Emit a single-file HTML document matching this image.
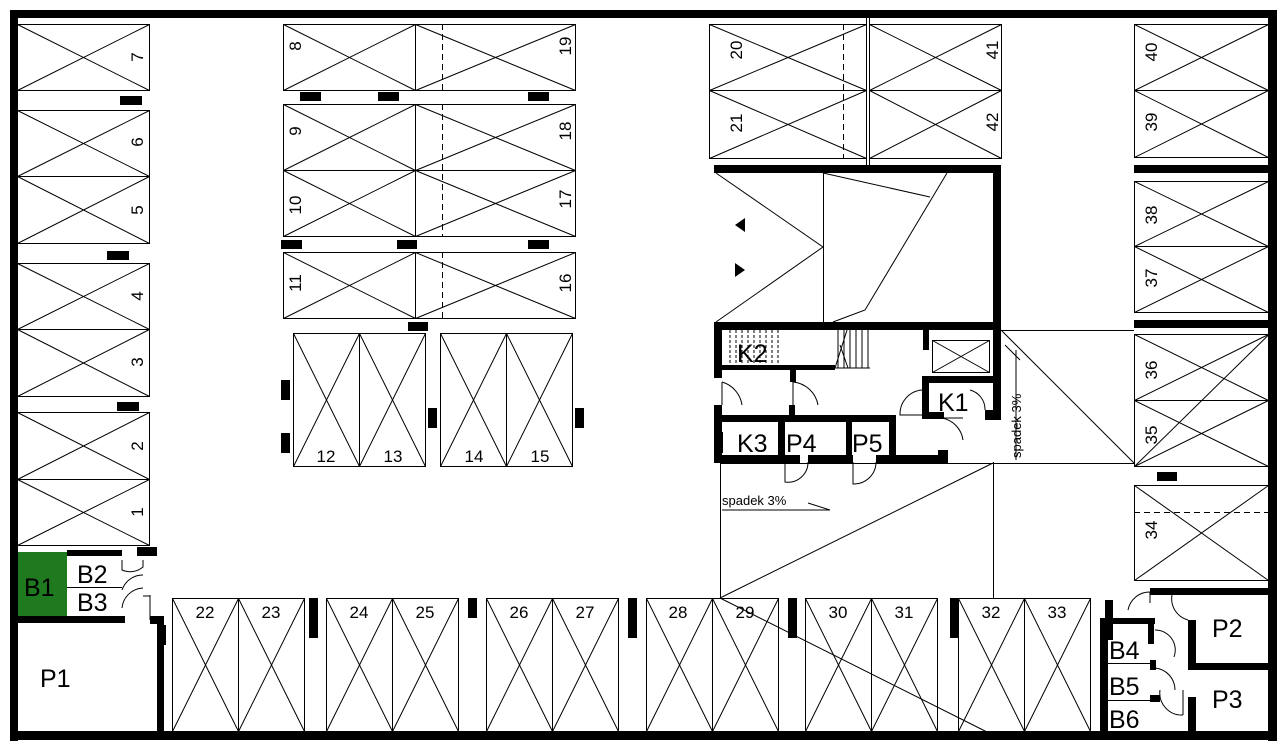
<!DOCTYPE html>
<html><head><meta charset="utf-8"><style>
html,body{margin:0;padding:0;background:#fff}
svg{display:block}
text{font-family:"Liberation Sans",sans-serif;fill:#000}
.t{font-size:17px}
.r{font-size:25px}
</style></head><body>
<svg width="1284" height="748" viewBox="0 0 1284 748" xmlns="http://www.w3.org/2000/svg">
<g fill="none" stroke="#000" stroke-width="1">
<rect x="17.5" y="24.5" width="132" height="66"/><path d="M17.5 24.5L149.5 90.5M17.5 90.5L149.5 24.5"/>
<rect x="17.5" y="110.5" width="132" height="66"/><path d="M17.5 110.5L149.5 176.5M17.5 176.5L149.5 110.5"/>
<rect x="17.5" y="176.5" width="132" height="67"/><path d="M17.5 176.5L149.5 243.5M17.5 243.5L149.5 176.5"/>
<rect x="17.5" y="263.5" width="132" height="66"/><path d="M17.5 263.5L149.5 329.5M17.5 329.5L149.5 263.5"/>
<rect x="17.5" y="329.5" width="132" height="67"/><path d="M17.5 329.5L149.5 396.5M17.5 396.5L149.5 329.5"/>
<rect x="17.5" y="412.5" width="132" height="67"/><path d="M17.5 412.5L149.5 479.5M17.5 479.5L149.5 412.5"/>
<rect x="17.5" y="479.5" width="132" height="66"/><path d="M17.5 479.5L149.5 545.5M17.5 545.5L149.5 479.5"/>
<rect x="283.5" y="24.5" width="132" height="66"/><path d="M283.5 24.5L415.5 90.5M283.5 90.5L415.5 24.5"/>
<rect x="415.5" y="24.5" width="160" height="66"/><path d="M415.5 24.5L575.5 90.5M415.5 90.5L575.5 24.5"/>
<rect x="283.5" y="104.5" width="132" height="66"/><path d="M283.5 104.5L415.5 170.5M283.5 170.5L415.5 104.5"/>
<rect x="415.5" y="104.5" width="160" height="66"/><path d="M415.5 104.5L575.5 170.5M415.5 170.5L575.5 104.5"/>
<rect x="283.5" y="170.5" width="132" height="66"/><path d="M283.5 170.5L415.5 236.5M283.5 236.5L415.5 170.5"/>
<rect x="415.5" y="170.5" width="160" height="66"/><path d="M415.5 170.5L575.5 236.5M415.5 236.5L575.5 170.5"/>
<rect x="283.5" y="252.5" width="132" height="66"/><path d="M283.5 252.5L415.5 318.5M283.5 318.5L415.5 252.5"/>
<rect x="415.5" y="252.5" width="160" height="66"/><path d="M415.5 252.5L575.5 318.5M415.5 318.5L575.5 252.5"/>
<path d="M442.5 24V90M442.5 104V236M442.5 252V318" stroke-dasharray="6,4"/>
<rect x="293.5" y="333.5" width="66" height="133"/><path d="M293.5 333.5L359.5 466.5M293.5 466.5L359.5 333.5"/>
<rect x="359.5" y="333.5" width="66" height="133"/><path d="M359.5 333.5L425.5 466.5M359.5 466.5L425.5 333.5"/>
<rect x="440.5" y="333.5" width="66" height="133"/><path d="M440.5 333.5L506.5 466.5M440.5 466.5L506.5 333.5"/>
<rect x="506.5" y="333.5" width="66" height="133"/><path d="M506.5 333.5L572.5 466.5M506.5 466.5L572.5 333.5"/>
<rect x="709.5" y="24.5" width="157" height="66"/><path d="M709.5 24.5L866.5 90.5M709.5 90.5L866.5 24.5"/>
<rect x="709.5" y="90.5" width="157" height="68"/><path d="M709.5 90.5L866.5 158.5M709.5 158.5L866.5 90.5"/>
<path d="M843.5 24V158" stroke-dasharray="6,4"/>
<rect x="869.5" y="24.5" width="132" height="66"/><path d="M869.5 24.5L1001.5 90.5M869.5 90.5L1001.5 24.5"/>
<rect x="869.5" y="90.5" width="132" height="68"/><path d="M869.5 90.5L1001.5 158.5M869.5 158.5L1001.5 90.5"/>
<path d="M866.5 17V165M869.5 17V165" />
<rect x="1134.5" y="24.5" width="134" height="66"/><path d="M1134.5 24.5L1268.5 90.5M1134.5 90.5L1268.5 24.5"/>
<rect x="1134.5" y="90.5" width="134" height="67"/><path d="M1134.5 90.5L1268.5 157.5M1134.5 157.5L1268.5 90.5"/>
<rect x="1134.5" y="181.5" width="134" height="65"/><path d="M1134.5 181.5L1268.5 246.5M1134.5 246.5L1268.5 181.5"/>
<rect x="1134.5" y="246.5" width="134" height="66"/><path d="M1134.5 246.5L1268.5 312.5M1134.5 312.5L1268.5 246.5"/>
<rect x="1134.5" y="334.5" width="134" height="66"/><path d="M1134.5 334.5L1268.5 400.5M1134.5 400.5L1268.5 334.5"/>
<rect x="1134.5" y="400.5" width="134" height="66"/><path d="M1134.5 400.5L1268.5 466.5M1134.5 466.5L1268.5 400.5"/>
<path d="M1134.5 466.5L1268.5 335"/>
<rect x="1134.5" y="485.5" width="134" height="95"/><path d="M1134.5 485.5L1268.5 580.5M1134.5 580.5L1268.5 485.5"/>
<path d="M1134 512.5H1268" stroke-dasharray="6,4"/>
<rect x="172.5" y="598.5" width="66" height="133"/><path d="M172.5 598.5L238.5 731.5M172.5 731.5L238.5 598.5"/>
<rect x="238.5" y="598.5" width="66" height="133"/><path d="M238.5 598.5L304.5 731.5M238.5 731.5L304.5 598.5"/>
<rect x="326.5" y="598.5" width="66" height="133"/><path d="M326.5 598.5L392.5 731.5M326.5 731.5L392.5 598.5"/>
<rect x="392.5" y="598.5" width="66" height="133"/><path d="M392.5 598.5L458.5 731.5M392.5 731.5L458.5 598.5"/>
<rect x="486.5" y="598.5" width="66" height="133"/><path d="M486.5 598.5L552.5 731.5M486.5 731.5L552.5 598.5"/>
<rect x="552.5" y="598.5" width="66" height="133"/><path d="M552.5 598.5L618.5 731.5M552.5 731.5L618.5 598.5"/>
<rect x="646.5" y="598.5" width="66" height="133"/><path d="M646.5 598.5L712.5 731.5M646.5 731.5L712.5 598.5"/>
<rect x="712.5" y="598.5" width="66" height="133"/><path d="M712.5 598.5L778.5 731.5M712.5 731.5L778.5 598.5"/>
<rect x="805.5" y="598.5" width="66" height="133"/><path d="M805.5 598.5L871.5 731.5M805.5 731.5L871.5 598.5"/>
<rect x="871.5" y="598.5" width="66" height="133"/><path d="M871.5 598.5L937.5 731.5M871.5 731.5L937.5 598.5"/>
<rect x="958.5" y="598.5" width="66" height="133"/><path d="M958.5 598.5L1024.5 731.5M958.5 731.5L1024.5 598.5"/>
<rect x="1024.5" y="598.5" width="66" height="133"/><path d="M1024.5 598.5L1090.5 731.5M1024.5 731.5L1090.5 598.5"/>
<path d="M720.5 462V598M993.5 462V598M720 463.5H1134M1001 330.5H1134M1001 330L1134 463M720 598L993 463M720 598L993 735"/>
<path d="M823.5 173V322M716 173L823 247L716 322M823 173L930 197M947 173L865 310L833 322"/>
<rect x="932.5" y="340.5" width="57" height="32"/><path d="M932.5 340.5L989.5 372.5M932.5 372.5L989.5 340.5"/>
<path d="M838 330V368M844 330V368M850 330V368M856 330V368M862 330V368M868 330V368M830 368H870M847 330L835 368M840 345L848 368"/>
<path d="M730 330V368M736 330V368M742 330V368M748 330V368M754 330V368M760 330V368M766 330V368M772 330V368M778 330V368" stroke-dasharray="3,2"/>
<path d="M722 382A28 28 0 0 1 742 405M722 382V405M793 382A28 28 0 0 1 818 405M793 382V405M785 462V482A20 20 0 0 0 808 462M853 462V484A22 22 0 0 0 876 462M922 390A24 24 0 0 0 900 415H922M942 418A26 26 0 0 1 963 440M943 418H963M970 390A20 20 0 0 1 985 410"/>
<path d="M122 560V570A20 20 0 0 0 143 567V560M122 590A22 22 0 0 1 143 575M122 608A22 22 0 0 1 143 588M150 595V620M143 596H150"/>
<path d="M1128 610A22 22 0 0 1 1150 592M1150 592V603M1172 595A22 22 0 0 0 1188 620M1155 630A20 20 0 0 1 1174 657M1155 668A22 22 0 0 1 1175 690M1160 690A22 22 0 0 0 1183 715M1183 690V715"/>
<path d="M1005 345L1020 360M1016 350V460" />
<path d="M722 510H800L830 510L808 503"/>
</g>
<g fill="#000">
<rect x="10" y="10" width="1267" height="8"/>
<rect x="10" y="10" width="8" height="731"/>
<rect x="10" y="731" width="1267" height="9"/>
<rect x="1268" y="10" width="9" height="731"/>
<rect x="120" y="96" width="22" height="9"/><rect x="107" y="251" width="22" height="9"/><rect x="117" y="402" width="22" height="9"/><rect x="137" y="547" width="20" height="9"/>
<rect x="300" y="92" width="21" height="9"/><rect x="378" y="92" width="21" height="9"/><rect x="528" y="92" width="21" height="9"/>
<rect x="281" y="240" width="21" height="9"/><rect x="397" y="240" width="20" height="9"/><rect x="528" y="240" width="21" height="9"/>
<rect x="408" y="322" width="20" height="9"/>
<rect x="281" y="380" width="9" height="20"/><rect x="281" y="433" width="9" height="20"/><rect x="428" y="408" width="9" height="20"/><rect x="575" y="408" width="9" height="20"/>
<rect x="1157" y="472" width="20" height="9"/>
<rect x="309" y="598" width="9" height="40"/><rect x="468" y="598" width="9" height="20"/><rect x="628" y="598" width="9" height="40"/><rect x="788" y="598" width="9" height="40"/><rect x="950" y="598" width="9" height="40"/>
<rect x="714" y="165" width="287" height="8"/>
<rect x="993" y="165" width="8" height="165"/>
<rect x="714" y="322" width="287" height="8"/>
<rect x="1134" y="165" width="134" height="8"/>
<rect x="1134" y="320" width="134" height="8"/>
<polygon points="735,225 745,218 745,232"/><polygon points="745,270 735,263 735,277"/>
<rect x="714" y="322" width="8" height="56"/>
<rect x="722" y="365" width="113" height="5"/>
<rect x="790" y="368" width="6" height="14"/>
<rect x="714" y="405" width="8" height="57"/>
<rect x="722" y="415" width="174" height="7"/>
<rect x="789" y="405" width="6" height="12"/>
<rect x="714" y="455" width="86" height="8"/><rect x="808" y="455" width="45" height="8"/><rect x="876" y="455" width="72" height="8"/>
<rect x="778" y="420" width="7" height="40"/><rect x="846" y="420" width="6" height="40"/><rect x="889" y="420" width="7" height="40"/>
<rect x="938" y="450" width="10" height="12"/>
<rect x="923" y="330" width="6" height="20"/>
<rect x="922" y="376" width="71" height="7"/>
<rect x="922" y="376" width="7" height="40"/>
<rect x="922" y="412" width="22" height="7"/>
<rect x="985" y="410" width="16" height="10"/>
<rect x="993" y="322" width="8" height="98"/>
<rect x="18" y="616" width="107" height="7"/>
<rect x="67" y="550" width="55" height="6"/>
<rect x="157" y="616" width="7" height="115"/>
<rect x="150" y="616" width="12" height="8"/>
<rect x="162" y="625" width="4" height="20"/>
<rect x="1100" y="618" width="8" height="113"/>
<rect x="1100" y="618" width="55" height="6"/>
<rect x="1105" y="600" width="8" height="40"/>
<rect x="1150" y="588" width="118" height="7"/>
<rect x="1188" y="620" width="8" height="50"/>
<rect x="1193" y="663" width="75" height="7"/>
<rect x="1188" y="697" width="8" height="34"/>
<rect x="1148" y="622" width="6" height="22"/>
<rect x="1150" y="660" width="6" height="10"/>
<rect x="1150" y="695" width="10" height="7"/>
</g>
<g fill="none" stroke="#000">
<path d="M1108 663.5H1150M1108 700.5H1160M67 587.5H122"/>
<rect x="716.5" y="432.5" width="6" height="20"/>
</g>
<rect x="18" y="552" width="49" height="64" fill="#1f7a1f"/>
<g class="t">
<text transform="translate(143,57) rotate(-90)" text-anchor="middle">7</text>
<text transform="translate(143,142) rotate(-90)" text-anchor="middle">6</text>
<text transform="translate(143,210) rotate(-90)" text-anchor="middle">5</text>
<text transform="translate(143,296) rotate(-90)" text-anchor="middle">4</text>
<text transform="translate(143,362) rotate(-90)" text-anchor="middle">3</text>
<text transform="translate(143,446) rotate(-90)" text-anchor="middle">2</text>
<text transform="translate(143,512) rotate(-90)" text-anchor="middle">1</text>
<text transform="translate(301,46) rotate(-90)" text-anchor="middle">8</text>
<text transform="translate(301,131) rotate(-90)" text-anchor="middle">9</text>
<text transform="translate(301,205) rotate(-90)" text-anchor="middle">10</text>
<text transform="translate(301,283) rotate(-90)" text-anchor="middle">11</text>
<text transform="translate(571,46) rotate(-90)" text-anchor="middle">19</text>
<text transform="translate(571,131) rotate(-90)" text-anchor="middle">18</text>
<text transform="translate(571,199) rotate(-90)" text-anchor="middle">17</text>
<text transform="translate(571,283) rotate(-90)" text-anchor="middle">16</text>
<text transform="translate(742,50) rotate(-90)" text-anchor="middle">20</text>
<text transform="translate(742,123) rotate(-90)" text-anchor="middle">21</text>
<text transform="translate(998,50) rotate(-90)" text-anchor="middle">41</text>
<text transform="translate(998,122) rotate(-90)" text-anchor="middle">42</text>
<text transform="translate(1157,52) rotate(-90)" text-anchor="middle">40</text>
<text transform="translate(1157,122) rotate(-90)" text-anchor="middle">39</text>
<text transform="translate(1157,215) rotate(-90)" text-anchor="middle">38</text>
<text transform="translate(1157,278) rotate(-90)" text-anchor="middle">37</text>
<text transform="translate(1157,370) rotate(-90)" text-anchor="middle">36</text>
<text transform="translate(1157,435) rotate(-90)" text-anchor="middle">35</text>
<text transform="translate(1157,530) rotate(-90)" text-anchor="middle">34</text>
<text x="326" y="462" text-anchor="middle">12</text>
<text x="393" y="462" text-anchor="middle">13</text>
<text x="474" y="462" text-anchor="middle">14</text>
<text x="540" y="462" text-anchor="middle">15</text>
<text x="205" y="618" text-anchor="middle">22</text>
<text x="271" y="618" text-anchor="middle">23</text>
<text x="359" y="618" text-anchor="middle">24</text>
<text x="425" y="618" text-anchor="middle">25</text>
<text x="519" y="618" text-anchor="middle">26</text>
<text x="585" y="618" text-anchor="middle">27</text>
<text x="678" y="618" text-anchor="middle">28</text>
<text x="745" y="618" text-anchor="middle">29</text>
<text x="838" y="618" text-anchor="middle">30</text>
<text x="904" y="618" text-anchor="middle">31</text>
<text x="991" y="618" text-anchor="middle">32</text>
<text x="1057" y="618" text-anchor="middle">33</text>
</g>
<g class="r">
<text x="737" y="362">K2</text>
<text x="938" y="411">K1</text>
<text x="737" y="452">K3</text>
<text x="786" y="452">P4</text>
<text x="852" y="452">P5</text>
<text x="24" y="596">B1</text>
<text x="77" y="583">B2</text>
<text x="77" y="611">B3</text>
<text x="40" y="687">P1</text>
<text x="1212" y="637">P2</text>
<text x="1212" y="708">P3</text>
<text x="1109" y="659">B4</text>
<text x="1109" y="695">B5</text>
<text x="1109" y="728">B6</text>
</g>
<text x="722" y="505" style="font-size:13px">spadek 3%</text>
<text transform="translate(1021,458) rotate(-90)" style="font-size:13px">spadek 3%</text>
</svg>
</body></html>
